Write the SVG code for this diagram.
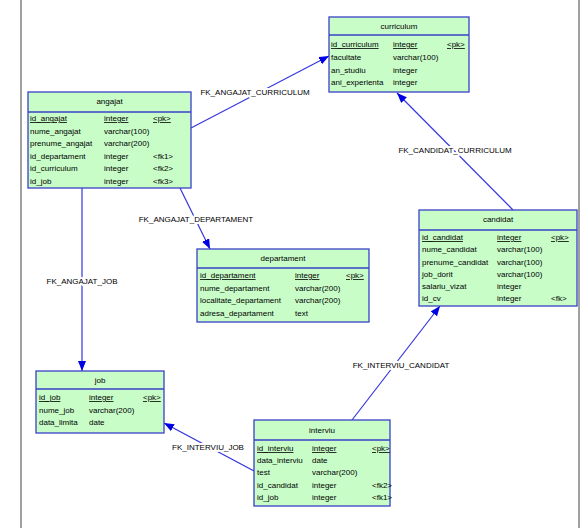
<svg xmlns="http://www.w3.org/2000/svg" width="588" height="528" viewBox="0 0 588 528">
<defs>
<style>
text{font-family:"Liberation Sans",Arial,sans-serif;font-size:8px;fill:#000}
.box{fill:#c8fdc8;stroke:#3a40c8;stroke-width:1.3}
.sep{stroke:#3a40c8;stroke-width:1.3}
.hd{text-anchor:middle}
.pk{text-decoration:underline}
.conn{stroke:#3434e0;stroke-width:1.2;fill:none;marker-end:url(#arr)}
.lbl{text-anchor:middle;stroke:#fff;stroke-width:4;paint-order:stroke;stroke-linejoin:round}
.frame{stroke:#808080;stroke-width:1.5}
</style>
<marker id="arr" markerUnits="userSpaceOnUse" markerWidth="12" markerHeight="10" refX="10" refY="4" orient="auto">
<path d="M0,0 L10,4 L0,8 Z" fill="#0000e6"/>
</marker>
</defs>
<rect width="588" height="528" fill="#fff"/>
<line class="frame" x1="21" y1="0" x2="21" y2="528"/>
<line class="frame" x1="579" y1="0" x2="579" y2="528"/>

<g id="connectors">
<line class="conn" x1="191" y1="128" x2="329" y2="56"/>
<line class="conn" x1="513" y1="210" x2="397" y2="93"/>
<line class="conn" x1="180" y1="188" x2="210" y2="249"/>
<line class="conn" x1="82" y1="188" x2="82" y2="371"/>
<line class="conn" x1="254" y1="471" x2="164" y2="423"/>
<line class="conn" x1="352" y1="420" x2="440" y2="306"/>
<text class="lbl" x="255" y="95">FK_ANGAJAT_CURRICULUM</text>
<text class="lbl" x="455" y="153">FK_CANDIDAT_CURRICULUM</text>
<text class="lbl" x="196" y="222">FK_ANGAJAT_DEPARTAMENT</text>
<text class="lbl" x="82" y="284">FK_ANGAJAT_JOB</text>
<text class="lbl" x="208" y="450">FK_INTERVIU_JOB</text>
<text class="lbl" x="401" y="368">FK_INTERVIU_CANDIDAT</text>
</g>

<g id="curriculum">
<rect class="box" x="329" y="17" width="140" height="75"/>
<line class="sep" x1="329" y1="35" x2="469" y2="35"/>
<text class="hd" x="399" y="29">curriculum</text>
<text class="pk" x="331" y="47">id_curriculum</text><text class="pk" x="393" y="47">integer</text><text class="pk" x="447" y="47">&lt;pk&gt;</text>
<text x="331" y="60">facultate</text><text x="393" y="60">varchar(100)</text>
<text x="331" y="72.5">an_studiu</text><text x="393" y="72.5">integer</text>
<text x="331" y="85">ani_experienta</text><text x="393" y="85">integer</text>
</g>

<g id="angajat">
<rect class="box" x="28" y="92" width="163" height="96"/>
<line class="sep" x1="28" y1="112" x2="191" y2="112"/>
<text class="hd" x="109.5" y="104">angajat</text>
<text class="pk" x="30" y="121">id_angajat</text><text class="pk" x="104" y="121">integer</text><text class="pk" x="153" y="121">&lt;pk&gt;</text>
<text x="30" y="133.5">nume_angajat</text><text x="104" y="133.5">varchar(100)</text>
<text x="30" y="146">prenume_angajat</text><text x="104" y="146">varchar(200)</text>
<text x="30" y="158.5">id_departament</text><text x="104" y="158.5">integer</text><text x="153" y="158.5">&lt;fk1&gt;</text>
<text x="30" y="171">id_curriculum</text><text x="104" y="171">integer</text><text x="153" y="171">&lt;fk2&gt;</text>
<text x="30" y="183.5">id_job</text><text x="104" y="183.5">integer</text><text x="153" y="183.5">&lt;fk3&gt;</text>
</g>

<g id="departament">
<rect class="box" x="197" y="249" width="172" height="73"/>
<line class="sep" x1="197" y1="268" x2="369" y2="268"/>
<text class="hd" x="283" y="261">departament</text>
<text class="pk" x="200" y="278">id_departament</text><text class="pk" x="295" y="278">integer</text><text class="pk" x="346" y="278">&lt;pk&gt;</text>
<text x="200" y="290.5">nume_departament</text><text x="295" y="290.5">varchar(200)</text>
<text x="200" y="303">localitate_departament</text><text x="295" y="303">varchar(200)</text>
<text x="200" y="315.5">adresa_departament</text><text x="295" y="315.5">text</text>
</g>

<g id="candidat">
<rect class="box" x="419" y="210" width="158" height="96"/>
<line class="sep" x1="419" y1="230" x2="577" y2="230"/>
<text class="hd" x="498" y="222">candidat</text>
<text class="pk" x="422" y="240">id_candidat</text><text class="pk" x="497" y="240">integer</text><text class="pk" x="551" y="240">&lt;pk&gt;</text>
<text x="422" y="252">nume_candidat</text><text x="497" y="252">varchar(100)</text>
<text x="422" y="264.5">prenume_candidat</text><text x="497" y="264.5">varchar(100)</text>
<text x="422" y="276.5">job_dorit</text><text x="497" y="276.5">varchar(100)</text>
<text x="422" y="289">salariu_vizat</text><text x="497" y="289">integer</text>
<text x="422" y="301">id_cv</text><text x="497" y="301">integer</text><text x="551" y="301">&lt;fk&gt;</text>
</g>

<g id="job">
<rect class="box" x="36" y="371" width="128" height="62"/>
<line class="sep" x1="36" y1="389" x2="164" y2="389"/>
<text class="hd" x="100" y="383">job</text>
<text class="pk" x="39" y="400">id_job</text><text class="pk" x="89" y="400">integer</text><text class="pk" x="143" y="400">&lt;pk&gt;</text>
<text x="39" y="412.5">nume_job</text><text x="89" y="412.5">varchar(200)</text>
<text x="39" y="425">data_limita</text><text x="89" y="425">date</text>
</g>

<g id="interviu">
<rect class="box" x="254" y="420" width="136" height="86"/>
<line class="sep" x1="254" y1="440" x2="390" y2="440"/>
<text class="hd" x="322" y="433">interviu</text>
<text class="pk" x="257" y="451">id_interviu</text><text class="pk" x="312" y="451">integer</text><text class="pk" x="372" y="451">&lt;pk&gt;</text>
<text x="257" y="463">data_interviu</text><text x="312" y="463">date</text>
<text x="257" y="475">test</text><text x="312" y="475">varchar(200)</text>
<text x="257" y="487.5">id_candidat</text><text x="312" y="487.5">integer</text><text x="372" y="487.5">&lt;fk2&gt;</text>
<text x="257" y="500">id_job</text><text x="312" y="500">integer</text><text x="372" y="500">&lt;fk1&gt;</text>
</g>
</svg>
